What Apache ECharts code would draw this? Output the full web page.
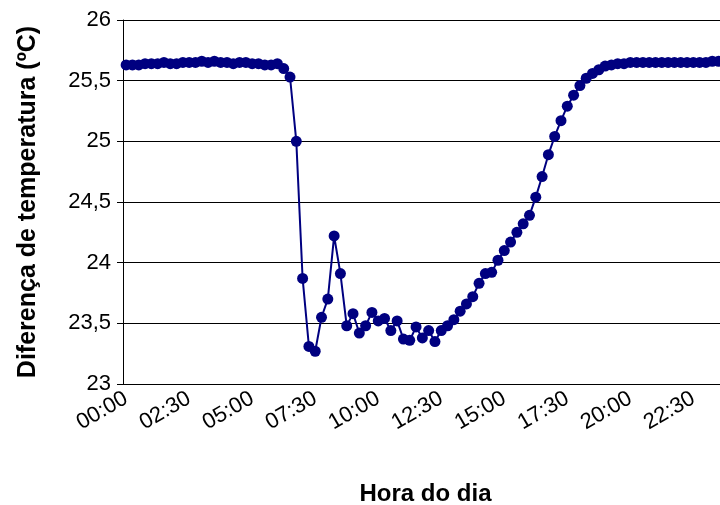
<!DOCTYPE html>
<html>
<head>
<meta charset="utf-8">
<script src="https://cdn.jsdelivr.net/npm/echarts@6/dist/echarts.min.js"></script>
<style>
  html, body { margin: 0; padding: 0; background: #fff; overflow: hidden; }
  #chart { width: 720px; height: 505px; }
</style>
</head>
<body>
<div id="chart"></div>
<script>
// horas de 15 em 15 minutos
const horas = [];
for (let h = 0; h < 24; h++) {
  for (let m = 0; m < 60; m += 15) {
    horas.push(String(h).padStart(2, "0") + ":" + String(m).padStart(2, "0"));
  }
}

const temperatura = [
  25.63, 25.63, 25.63, 25.64, 25.64, 25.64, 25.65, 25.64, 25.64, 25.65,
  25.65, 25.65, 25.66, 25.65, 25.66, 25.65, 25.65, 25.64, 25.65, 25.65,
  25.64, 25.64, 25.63, 25.63, 25.64, 25.60, 25.53, 25.00, 23.87, 23.31,
  23.27, 23.55, 23.70, 24.22, 23.91, 23.48, 23.58, 23.42, 23.48, 23.59,
  23.52, 23.54, 23.44, 23.52, 23.37, 23.36, 23.47, 23.38, 23.44, 23.35,
  23.44, 23.48, 23.53, 23.60, 23.66, 23.72, 23.83, 23.91, 23.92, 24.02,
  24.10, 24.17, 24.25, 24.32, 24.39, 24.54, 24.71, 24.89, 25.04, 25.17,
  25.29, 25.38, 25.46, 25.52, 25.56, 25.59, 25.62, 25.63, 25.64, 25.64,
  25.65, 25.65, 25.65, 25.65, 25.65, 25.65, 25.65, 25.65, 25.65, 25.65,
  25.65, 25.65, 25.65, 25.66, 25.66, 25.66
];

const chart = echarts.init(document.getElementById("chart"));
chart.setOption({
  animation: false,
  grid: { left: 123, width: 605, top: 20, bottom: 121, outerBoundsMode: "none", containLabel: false },
  xAxis: {
    type: "category",
    data: horas,
    boundaryGap: true,
    name: "Hora do dia",
    nameLocation: "middle",
    nameGap: 98,
    nameTextStyle: { fontFamily: "Liberation Sans", fontWeight: "bold", fontSize: 24, color: "#000" },
    axisLine: { lineStyle: { color: "#000", width: 1 } },
    axisTick: { interval: 0, length: 6, lineStyle: { color: "#666" } },
    axisLabel: {
      interval: 9,
      rotate: 30,
      margin: 13,
      fontFamily: "Liberation Sans",
      fontSize: 22,
      color: "#000"
    },
    splitLine: { show: false }
  },
  yAxis: {
    type: "value",
    min: 23,
    max: 26,
    interval: 0.5,
    name: "Diferença de temperatura (ºC)",
    nameLocation: "middle",
    nameGap: 82,
    nameTextStyle: { fontFamily: "Liberation Sans", fontWeight: "bold", fontSize: 25, color: "#000" },
    axisLine: { show: true, lineStyle: { color: "#000", width: 1 } },
    axisTick: { show: true, length: 6, lineStyle: { color: "#000" } },
    axisLabel: {
      margin: 12,
      fontFamily: "Liberation Sans",
      fontSize: 22,
      color: "#000",
      formatter: (v) => String(v).replace(".", ",")
    },
    splitLine: { show: true, lineStyle: { color: "#000", width: 1 } }
  },
  series: [
    {
      type: "line",
      data: temperatura,
      symbol: "circle",
      symbolSize: 11,
      showAllSymbol: true,
      lineStyle: { color: "#000080", width: 2 },
      itemStyle: { color: "#000080" }
    }
  ]
});
</script>
</body>
</html>
